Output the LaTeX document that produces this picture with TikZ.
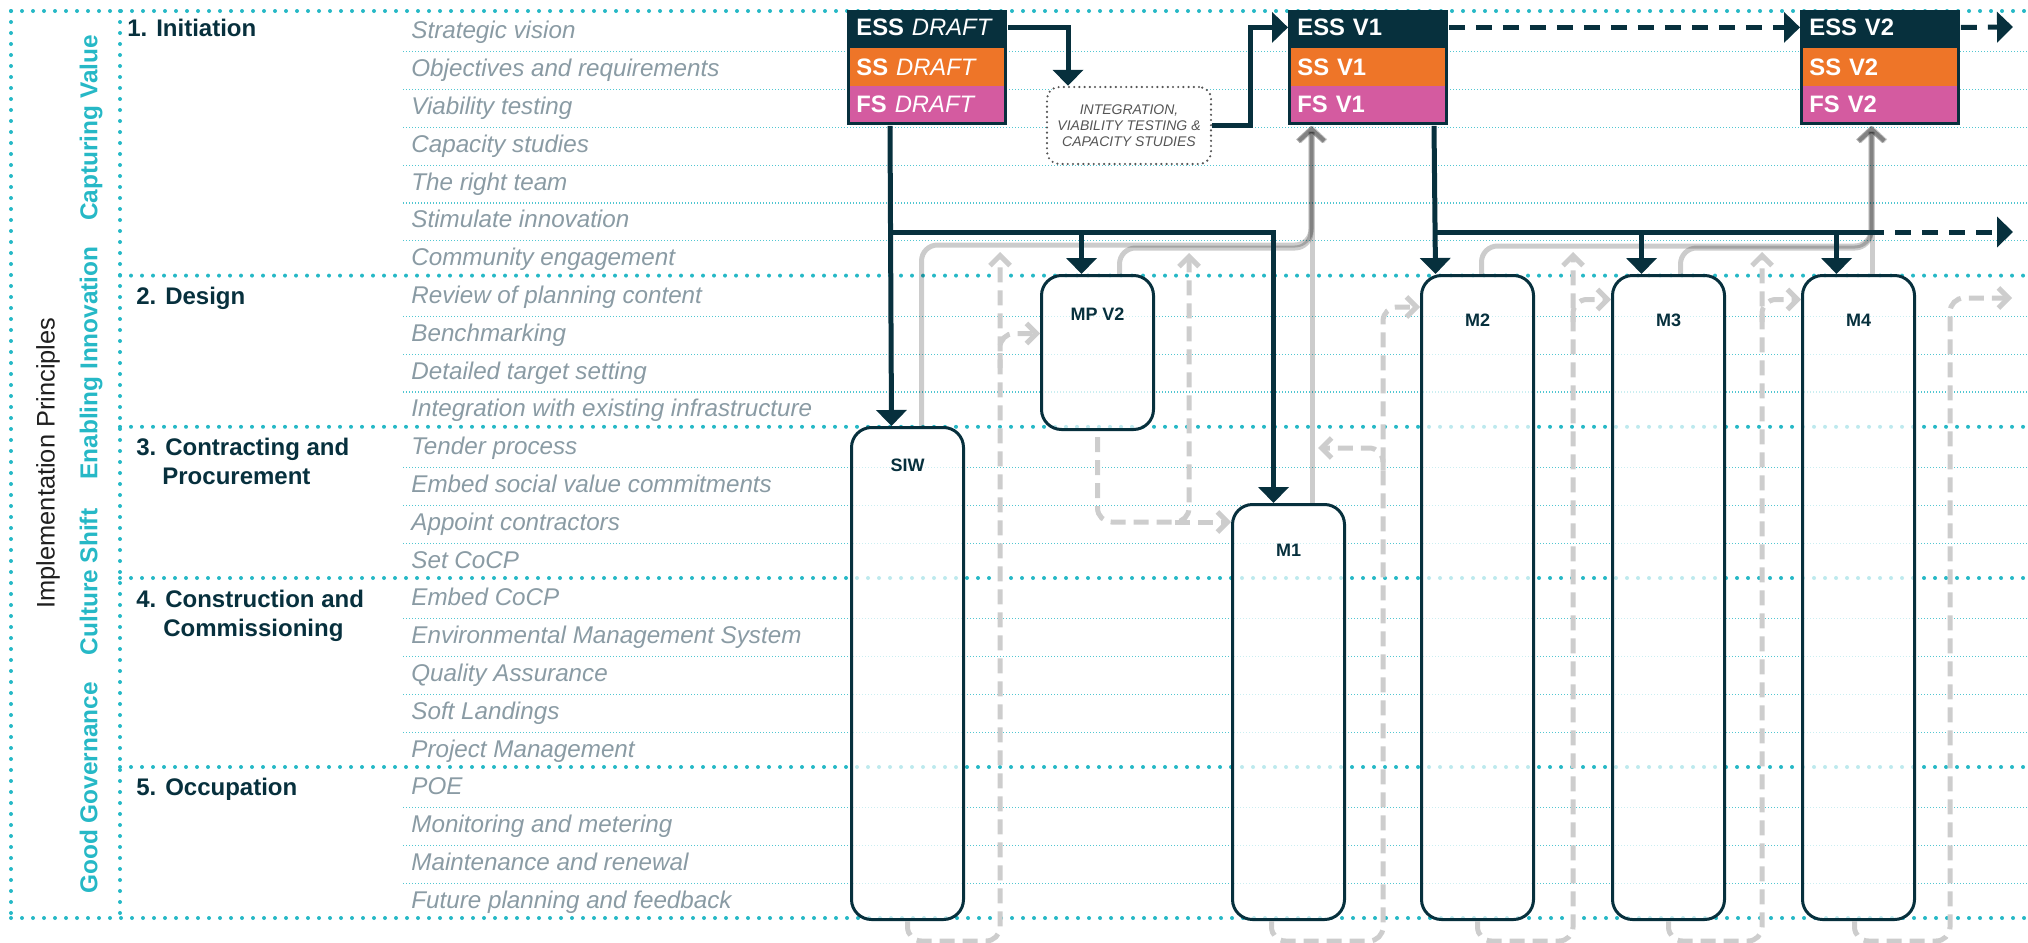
\documentclass[tikz,border=0pt]{standalone}
\usepackage{fontspec}
\setmainfont{Liberation Sans}
\usetikzlibrary{arrows.meta}
\definecolor{navy}{RGB}{7,48,61}
\definecolor{tealc}{RGB}{38,184,198}
\definecolor{orangec}{RGB}{238,117,40}
\definecolor{pinkc}{RGB}{212,91,160}
\definecolor{rowgray}{RGB}{138,155,164}
\definecolor{lgray}{RGB}{205,205,205}
\definecolor{intgray}{RGB}{85,85,85}
\begin{document}
\begin{tikzpicture}[x=0.5pt,y=-0.5pt,
  thickdot/.style={draw=tealc, line width=2pt, line cap=round, dash pattern=on 0pt off 5.5pt},
  thindot/.style={draw=tealc!80, line width=0.6pt, dash pattern=on 0.5pt off 1pt},
  rowlab/.style={anchor=base west, inner sep=0pt, text=rowgray, font=\fontsize{12.1pt}{14pt}\selectfont\itshape},
  seclab/.style={anchor=base west, inner sep=0pt, text=navy, font=\fontsize{12pt}{14pt}\selectfont\bfseries},
  vlab/.style={rotate=90, anchor=base, inner sep=0pt, text=tealc, font=\fontsize{12.2pt}{14pt}\selectfont\bfseries},
  mbox/.style={draw=navy, line width=1.5pt, rounded corners=10pt, fill=white, fill opacity=0.7, minimum width=56pt, anchor=north west, inner sep=0pt},
  boxlab/.style={anchor=base, inner sep=0pt, text=navy, font=\fontsize{9pt}{11pt}\selectfont\bfseries},
  blockframe/.style={fill=navy, anchor=north west, inner sep=0pt, minimum width=80pt, minimum height=57.5pt},
  essrow/.style={anchor=north west, inner sep=0pt, inner xsep=4.5pt, text width=71pt, minimum height=17pt, text height=8.2pt, text depth=0pt, text=white, font=\fontsize{11.9pt}{14pt}\selectfont, align=left, fill=navy},
  ssrow/.style={anchor=north west, inner sep=0pt, inner xsep=3pt, text width=71pt, minimum height=19pt, text height=8.2pt, text depth=0pt, text=white, font=\fontsize{11.9pt}{14pt}\selectfont, align=left},
  intgbox/.style={draw=intgray, line width=1.2pt, dash pattern=on 0pt off 2.6pt, line cap=round, rounded corners=6pt, fill=white, minimum width=82pt, minimum height=38.5pt, align=center, font=\fontsize{7pt}{8pt}\selectfont\itshape, text=intgray, inner sep=0pt},
  dline/.style={draw=navy, line width=2.5pt, line join=miter},
  darr/.style={dline, -{Triangle[length=8pt,width=15pt]}},
  ddash/.style={darr, dash pattern=on 8pt off 5.5pt},
  gline/.style={draw=black, draw opacity=0.2, line width=2.5pt, rounded corners=8pt, -{Straight Barb[length=6pt,width=13pt]}},
  gdash/.style={draw=lgray, line width=2.5pt, rounded corners=7pt, dash pattern=on 7.5pt off 4pt, -{Straight Barb[length=5pt,width=10pt]}}
]
\useasboundingbox (0,0) rectangle (2028,942);

% grid
\foreach \k in {1,2,3,4,5,6,8,9,10,12,13,14,16,17,18,19,21,22,23}
  \draw[thindot] (403,{14+37.8*\k}) -- (2028,{14+37.8*\k});
\foreach \k in {7,11,15,20}
  \draw[thickdot] (120,{11+37.8*\k}) -- (2028,{11+37.8*\k});
\draw[thickdot] (11,11) -- (2028,11);
\draw[thickdot] (11,918) -- (2028,918);
\draw[thickdot] (11,11) -- (11,918);
\draw[thickdot] (120,11) -- (120,918);

% left labels
\node[rotate=90, anchor=base, inner sep=0pt, text=black!88, font=\fontsize{12.7pt}{15pt}\selectfont] (impl) at (54.5,463) {Implementation Principles};
\node[vlab] (pcv) at (97.3,128) {Capturing Value};
\node[vlab] (pei) at (97.3,363) {Enabling Innovation};
\node[vlab] (pcs) at (97.3,582) {Culture Shift};
\node[vlab] (pgg) at (97.3,788) {Good Governance};

\node[seclab] (s1) at (127,36) {1. Initiation};
\node[seclab] (s2) at (136,304) {2. Design};
\node[seclab] (s3a) at (136,455) {3. Contracting and};
\node[seclab] (s3b) at (162,484) {Procurement};
\node[seclab] (s4a) at (136,607) {4. Construction and};
\node[seclab] (s4b) at (163,636) {Commissioning};
\node[seclab] (s5) at (136,795) {5. Occupation};

\foreach \t [count=\k from 0] in {Strategic vision,Objectives and requirements,Viability testing,Capacity studies,The right team,Stimulate innovation,Community engagement,Review of planning content,Benchmarking,Detailed target setting,Integration with existing infrastructure,Tender process,Embed social value commitments,Appoint contractors,Set CoCP,Embed CoCP,Environmental Management System,Quality Assurance,Soft Landings,Project Management,POE,Monitoring and metering,Maintenance and renewal,Future planning and feedback}
  \node[rowlab] (row\k) at (411,{38.9+37.8*\k}) {\t};

% strategy blocks
\node[blockframe] (v0) at (847,10) {};
\node[essrow] (essd) at (847,10) {\textbf{ESS} \textit{DRAFT}};
\node[ssrow, fill=orangec] (ssd) at (850,48) {\textbf{SS} \textit{DRAFT}};
\node[ssrow, fill=pinkc, minimum height=18pt] (fsd) at (850,86) {\textbf{FS} \textit{DRAFT}};

\node[blockframe] (v1) at (1288,10) {};
\node[essrow] (ess1) at (1288,10) {\textbf{ESS V1}};
\node[ssrow, fill=orangec] (ss1) at (1291,48) {\textbf{SS V1}};
\node[ssrow, fill=pinkc, minimum height=18pt] (fs1) at (1291,86) {\textbf{FS V1}};

\node[blockframe] (v2) at (1800,10) {};
\node[essrow] (ess2) at (1800,10) {\textbf{ESS V2}};
\node[ssrow, fill=orangec] (ss2) at (1803,48) {\textbf{SS V2}};
\node[ssrow, fill=pinkc, minimum height=18pt] (fs2) at (1803,86) {\textbf{FS V2}};

\node[intgbox] (intg) at (1129,125.5) {INTEGRATION,\\VIABILITY TESTING \&\\CAPACITY STUDIES};

% stage boxes
\node[mbox, minimum height=246pt] (siw) at (850,426) {};
\node[mbox, minimum height=77pt] (mp2) at (1040,274) {};
\node[mbox, minimum height=207.5pt] (m1) at (1231,503) {};
\node[mbox, minimum height=322pt] (m2) at (1420,274) {};
\node[mbox, minimum height=322pt] (m3) at (1611,274) {};
\node[mbox, minimum height=322pt] (m4) at (1801,274) {};

\node[boxlab] (lsiw) at ([yshift=-22.5pt]siw.north) {SIW};
\node[boxlab] (lmp2) at ([yshift=-23pt]mp2.north) {MP V2};
\node[boxlab] (lm1) at ([yshift=-26.5pt]m1.north) {M1};
\node[boxlab] (lm2) at ([yshift=-26pt]m2.north) {M2};
\node[boxlab] (lm3) at ([yshift=-26pt]m3.north) {M3};
\node[boxlab] (lm4) at ([yshift=-26pt]m4.north) {M4};

% light dashed feedback loops
\coordinate (u1) at (1000,252);
\coordinate (s1c) at (1000,368);
\draw[gdash] (siw.south) -- ++(0,20) -| (u1);
\draw[gdash] (s1c) |- ([yshift=9.5pt]mp2.west);

\coordinate (u2) at (1189,253);
\coordinate (k2) at (1189,522);
\draw[gdash] ([yshift=-3pt]mp2.south) |- (k2) -- (u2);
\draw[gdash] ([xshift=-7pt]k2) -- (k2 -| m1.west);

\coordinate (k3) at (1383,307);
\coordinate (s3c) at (1383,470);
\coordinate (t3) at (1318,448);
\draw[gdash] ([xshift=-8.5pt]m1.south) -- ++(0,20) -| (k3) -- (k3 -| m2.west);
\draw[gdash] (s3c) |- (t3);

\coordinate (u4) at (1573,252);
\coordinate (s4c) at (1573,322);
\draw[gdash] (m2.south) -- ++(0,20) -| (u4);
\draw[gdash] (s4c) |- ([yshift=149pt]m3.west);

\coordinate (u5) at (1762,252);
\coordinate (s5c) at (1762,322);
\draw[gdash] (m3.south) -- ++(0,20) -| (u5);
\draw[gdash] (s5c) |- ([yshift=149pt]m4.west);

\coordinate (k6) at (1950,298);
\coordinate (e6) at (2012,298);
\draw[gdash] ([xshift=-2pt]m4.south) -- ++(0,20) -| (k6) -- (e6);

% grey feedback into strategies
\coordinate (g1) at (1311,245);
\coordinate (g1b) at (1311,248);
\draw[gline] ([xshift=7pt]siw.north) |- (g1) -- (g1 |- v1.south);
\draw[gline] ([xshift=11pt]mp2.north) |- (g1b) -- (g1b |- v1.south);
\draw[gline] ([xshift=12pt]m1.north) -- ([xshift=12pt]m1.north |- v1.south);

\coordinate (g2) at (1871,246);
\coordinate (g2b) at (1871,248);
\draw[gline] ([xshift=2pt]m2.north) |- (g2) -- (g2 |- v2.south);
\draw[gline] ([xshift=6pt]m3.north) |- (g2b) -- (g2b |- v2.south);
\draw[gline] ([xshift=7pt]m4.north) -- ([xshift=7pt]m4.north |- v2.south);

% dark connectors
\coordinate (j1) at (1068,0);
\coordinate (j2) at (1250,0);
\draw[darr] (essd.east) -| (j1 |- intg.north);
\draw[darr] (intg.east) -| (j2 |- ess1.west) -- (ess1.west);
\draw[ddash] (ess1.east) -- (ess2.west);
\coordinate (e2) at (2013,27);
\draw[ddash] (ess2.east) -- (e2);

\coordinate (bA) at (890,232);
\draw[darr] (bA |- v0.south) -- ([xshift=-8pt]siw.north);
\draw[darr] (bA) -| ([xshift=-7.5pt]m1.north);
\draw[darr] ([xshift=-8pt]mp2.north |- bA) -- ([xshift=-8pt]mp2.north);

\coordinate (bB) at (1434,232);
\coordinate (bB2) at (1868,232);
\coordinate (e3) at (2013,232);
\draw[darr] (bB |- v1.south) -- ([xshift=-21pt]m2.north);
\draw[dline] (bB) -- (bB2);
\draw[ddash] (bB2) -- (e3);
\draw[darr] ([xshift=-13.5pt]m3.north |- bB) -- ([xshift=-13.5pt]m3.north);
\draw[darr] ([xshift=-11pt]m4.north |- bB) -- ([xshift=-11pt]m4.north);
\end{tikzpicture}
\end{document}
